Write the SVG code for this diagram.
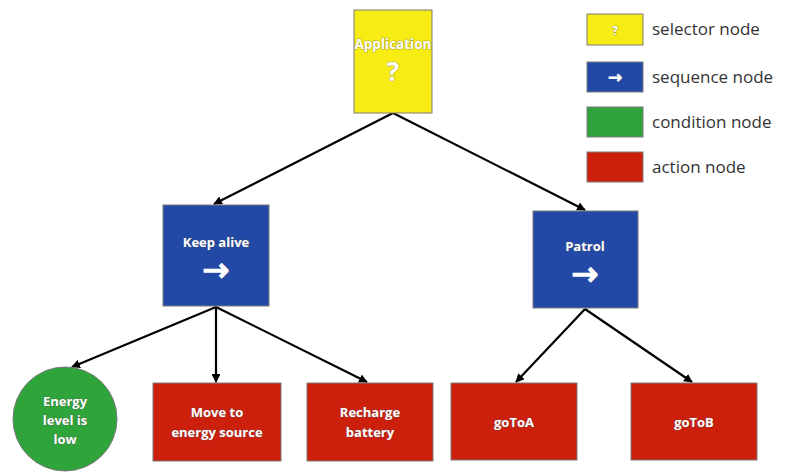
<svg xmlns="http://www.w3.org/2000/svg" width="797" height="473" viewBox="0 0 797 473">
<style>
.node{stroke:#7a7a7a;stroke-width:1}
.sel{fill:#f7ec13}
.seq{fill:#2349a6}
.cond{fill:#2ea43a}
.act{fill:#cc200d}
.lbl{font-family:"Open Sans","Liberation Sans",sans-serif;font-weight:bold;font-size:13px;fill:#fff;text-anchor:middle;stroke:#555;stroke-width:1.2;paint-order:stroke;stroke-opacity:0.45}
.big{font-size:26px}
.arr{font-family:"DejaVu Sans",sans-serif;font-size:32px;fill:#fff;stroke:#fff;stroke-width:1.5;text-anchor:middle}
.leg{font-family:"Open Sans","Liberation Sans",sans-serif;font-size:17px;fill:#333}
.edge{stroke:#000;stroke-width:2.2;fill:none;marker-end:url(#ah)}
</style>
<defs>
<marker id="ah" viewBox="0 0 10 10" refX="9" refY="5" markerWidth="4" markerHeight="4" orient="auto" markerUnits="strokeWidth">
<path d="M0,0 L10,5 L0,10 z" fill="#000"/>
</marker>
</defs>
<rect width="797" height="473" fill="#fff"/>
<g id="connectors">
<line class="edge" x1="393" y1="113" x2="214" y2="204"/>
<line class="edge" x1="393" y1="113" x2="585" y2="210"/>
<line class="edge" x1="216" y1="307" x2="72" y2="367"/>
<line class="edge" x1="216" y1="307" x2="216" y2="382"/>
<line class="edge" x1="216" y1="307" x2="367" y2="382"/>
<line class="edge" x1="585" y1="309" x2="516" y2="382"/>
<line class="edge" x1="585" y1="309" x2="692" y2="382"/>
</g>
<g id="application">
<rect class="node sel" x="354" y="10" width="78" height="103"/>
<text class="lbl" x="393" y="49" style="font-size:13.5px">Application</text>
<text class="lbl big" x="393" y="81">?</text>
</g>
<g id="keep-alive">
<rect class="node seq" x="163" y="205" width="106" height="101"/>
<text class="lbl" x="216" y="247">Keep alive</text>
<text class="arr" x="216" y="281">→</text>
</g>
<g id="patrol">
<rect class="node seq" x="533" y="211" width="105" height="97"/>
<text class="lbl" x="585" y="251">Patrol</text>
<text class="arr" x="585" y="285">→</text>
</g>
<g id="energy-low">
<circle class="node cond" cx="65" cy="419" r="52"/>
<text class="lbl" x="65" y="406">Energy</text>
<text class="lbl" x="65" y="425">level is</text>
<text class="lbl" x="65" y="444">low</text>
</g>
<g id="move-to-energy">
<rect class="node act" x="153" y="383" width="128" height="78"/>
<text class="lbl" x="217" y="417">Move to</text>
<text class="lbl" x="217" y="437">energy source</text>
</g>
<g id="recharge">
<rect class="node act" x="307" y="383" width="126" height="78"/>
<text class="lbl" x="370" y="417">Recharge</text>
<text class="lbl" x="370" y="437">battery</text>
</g>
<g id="gotoa">
<rect class="node act" x="451" y="383" width="126" height="77"/>
<text class="lbl" x="514" y="427">goToA</text>
</g>
<g id="gotob">
<rect class="node act" x="631" y="383" width="126" height="77"/>
<text class="lbl" x="694" y="427">goToB</text>
</g>
<g id="legend">
<rect class="node sel" x="587" y="14" width="56" height="31"/>
<text class="lbl" x="615" y="35" style="font-size:12px">?</text>
<text class="leg" x="652" y="35">selector node</text>
<rect class="node seq" x="587" y="62" width="56" height="30"/>
<text class="arr" x="615" y="83" style="font-size:17px;stroke-width:0.8">→</text>
<text class="leg" x="652" y="83">sequence node</text>
<rect class="node cond" x="587" y="107" width="56" height="30"/>
<text class="leg" x="652" y="128">condition node</text>
<rect class="node act" x="587" y="152" width="56" height="30"/>
<text class="leg" x="652" y="173">action node</text>
</g>
</svg>
